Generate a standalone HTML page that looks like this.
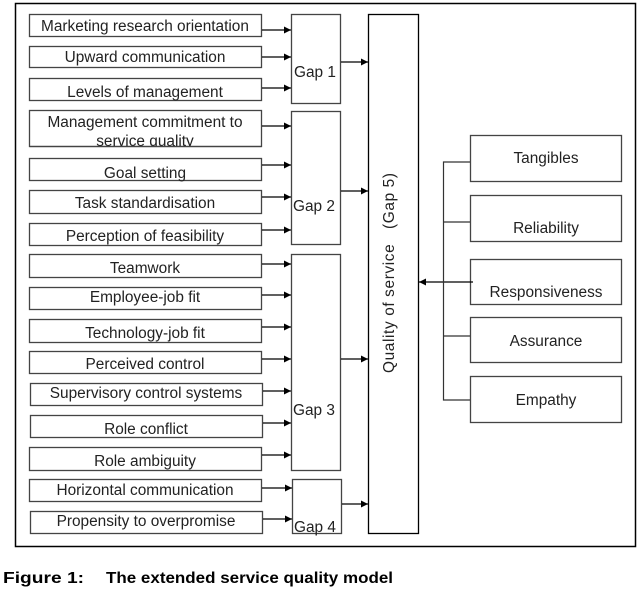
<!DOCTYPE html>
<html><head><meta charset="utf-8"><style>
html,body{margin:0;padding:0;background:#fff;}
svg{display:block;}
text{font-family:"Liberation Sans",Arial,sans-serif;fill:#222;}
</style></head><body>
<svg width="642" height="591" viewBox="0 0 642 591" xmlns="http://www.w3.org/2000/svg">
<defs>
<marker id="ah" markerWidth="8" markerHeight="8" refX="7" refY="4" orient="auto" markerUnits="userSpaceOnUse">
<path d="M0,0.5 L7,4 L0,7.5 Z" fill="#000"/>
</marker>
</defs>
<rect x="15.5" y="3.5" width="620" height="543" fill="none" stroke="#000" stroke-width="1.5"/>

<g stroke="#444" stroke-width="1.3" fill="#fff">
<rect x="29.5" y="14.5" width="232" height="22"/>
<rect x="29.5" y="46.5" width="232" height="21"/>
<rect x="29.5" y="78.5" width="232" height="22"/>
<rect x="29.5" y="110.5" width="232" height="36"/>
<rect x="29.5" y="158.5" width="232" height="22"/>
<rect x="29.5" y="190.5" width="232" height="23"/>
<rect x="29.5" y="223.5" width="232" height="22"/>
<rect x="29.5" y="254.5" width="232" height="23"/>
<rect x="29.5" y="287.5" width="232" height="22"/>
<rect x="29.5" y="319.5" width="232" height="23"/>
<rect x="29.5" y="351.5" width="232" height="22"/>
<rect x="30.5" y="383.5" width="232" height="22"/>
<rect x="30.5" y="415.5" width="232" height="22"/>
<rect x="29.5" y="447.5" width="232" height="23"/>
<rect x="29.5" y="479.5" width="232" height="22"/>
<rect x="30.5" y="511.5" width="232" height="22"/>

<rect x="291.5" y="14.5" width="49" height="89"/>
<rect x="291.5" y="111.5" width="49" height="133"/>
<rect x="291.5" y="254.5" width="49" height="216"/>
<rect x="292.5" y="479.5" width="49" height="54"/>
<rect x="368.5" y="14.5" width="50" height="519" stroke="#000"/>

<rect x="470.5" y="135.5" width="151" height="46"/>
<rect x="470.5" y="195.5" width="151" height="46"/>
<rect x="470.5" y="259.5" width="151" height="45"/>
<rect x="470.5" y="317.5" width="151" height="45"/>
<rect x="470.5" y="376.5" width="151" height="46"/>
</g>

<g font-size="15.4" text-anchor="middle">
<text x="145" y="31">Marketing research orientation</text>
<text x="145" y="62">Upward communication</text>
<text x="145" y="97">Levels of management</text>
<text x="145" y="127">Management commitment to</text>
<text x="145" y="178">Goal setting</text>
<text x="145" y="208">Task standardisation</text>
<text x="145" y="241">Perception of feasibility</text>
<text x="145" y="273">Teamwork</text>
<text x="145" y="302">Employee-job fit</text>
<text x="145" y="338">Technology-job fit</text>
<text x="145" y="369">Perceived control</text>
<text x="146" y="398">Supervisory control systems</text>
<text x="146" y="434">Role conflict</text>
<text x="145" y="466">Role ambiguity</text>
<text x="145" y="495">Horizontal communication</text>
<text x="146" y="526">Propensity to overpromise</text>
</g>
<svg x="29" y="110" width="233" height="36" overflow="hidden">
<text x="116" y="36" font-size="15.4" text-anchor="middle">service quality</text>
</svg>
<line x1="29.5" y1="146.5" x2="261.5" y2="146.5" stroke="#444" stroke-width="1.3"/>

<g font-size="15.4">
<text x="294" y="77">Gap 1</text>
<text x="293" y="211">Gap 2</text>
<text x="293" y="415">Gap 3</text>
<text x="294" y="532">Gap 4</text>
</g>
<text x="0" y="0" font-size="15.4" text-anchor="middle" textLength="200" lengthAdjust="spacing" transform="translate(394,273) rotate(-90)" xml:space="preserve">Quality of service   (Gap 5)</text>

<g font-size="15.4" text-anchor="middle">
<text x="546" y="163">Tangibles</text>
<text x="546" y="233">Reliability</text>
<text x="546" y="297">Responsiveness</text>
<text x="546" y="346">Assurance</text>
<text x="546" y="405">Empathy</text>
</g>

<g stroke="#000" stroke-width="1.2" marker-end="url(#ah)">
<line x1="262" y1="30" x2="291" y2="30"/>
<line x1="262" y1="57" x2="291" y2="57"/>
<line x1="262" y1="88" x2="291" y2="88"/>
<line x1="262" y1="126" x2="291" y2="126"/>
<line x1="262" y1="165" x2="291" y2="165"/>
<line x1="262" y1="197" x2="291" y2="197"/>
<line x1="262" y1="230" x2="291" y2="230"/>
<line x1="262" y1="264" x2="291" y2="264"/>
<line x1="262" y1="295" x2="291" y2="295"/>
<line x1="262" y1="327" x2="291" y2="327"/>
<line x1="262" y1="359" x2="291" y2="359"/>
<line x1="263" y1="391" x2="291" y2="391"/>
<line x1="263" y1="423" x2="291" y2="423"/>
<line x1="262" y1="455" x2="291" y2="455"/>
<line x1="262" y1="488" x2="292" y2="488"/>
<line x1="263" y1="519" x2="292" y2="519"/>
<line x1="341" y1="62" x2="368" y2="62"/>
<line x1="341" y1="191" x2="368" y2="191"/>
<line x1="341" y1="359" x2="368" y2="359"/>
<line x1="342" y1="504" x2="368" y2="504"/>
<line x1="473" y1="282" x2="419" y2="282"/>
</g>
<g stroke="#333" stroke-width="1.2" fill="none">
<path d="M470 162 H443.5 V400 H470"/>
<line x1="443" y1="222" x2="470" y2="222"/>
<line x1="443" y1="336" x2="470" y2="336"/>
</g>

<text x="3" y="583" font-size="16" font-weight="bold" textLength="81" lengthAdjust="spacingAndGlyphs" style="fill:#000">Figure 1:</text>
<text x="106" y="583" font-size="16" font-weight="bold" textLength="287" lengthAdjust="spacingAndGlyphs" style="fill:#000">The extended service quality model</text>
</svg>
</body></html>
